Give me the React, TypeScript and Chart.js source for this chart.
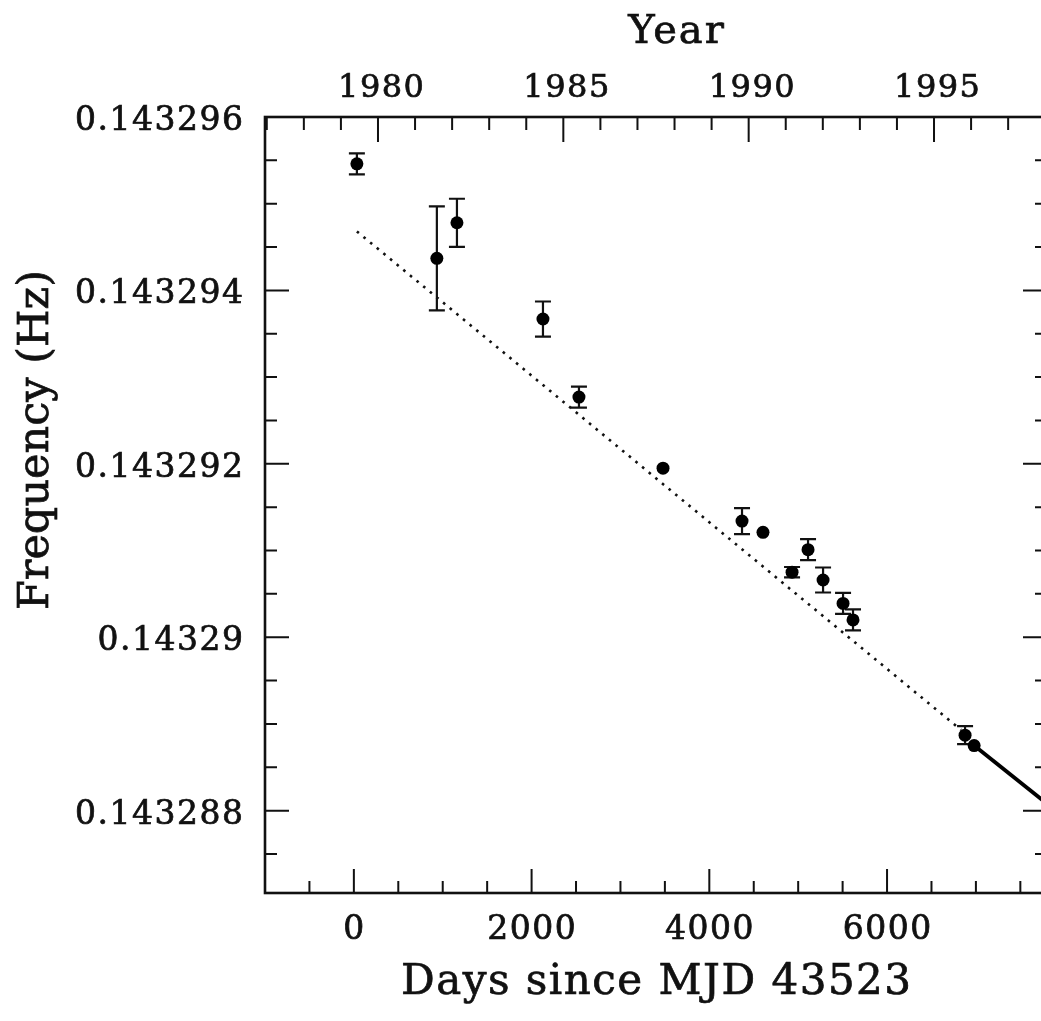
import React, { useEffect, useRef } from "react";
import { Chart, registerables } from "chart.js";

Chart.register(...registerables);

// Pulse frequency measurements: days since MJD 43523, frequency (Hz), 1-sigma error (Hz)
const obsDays = [34, 934, 1160, 2128, 2533, 3479, 4368, 4604, 4931, 5111, 5280, 5505, 5617, 6878, 6980];
const obsFreq = [
  0.14329546, 0.14329437, 0.14329478, 0.14329367, 0.14329277, 0.14329195, 0.14329134, 0.14329121,
  0.14329075, 0.14329101, 0.14329066, 0.14329039, 0.1432902, 0.14328887, 0.14328875,
];
const obsErr = [
  1.21e-7, 6.0e-7, 2.77e-7, 2.02e-7, 1.21e-7, 0, 1.5e-7, 0, 0.6e-7, 1.21e-7, 1.44e-7, 1.21e-7, 1.21e-7,
  1.04e-7, 0,
];

// Long-term linear spin-down trend (dotted)
const trendDays = [34, 6833];
const trendFreq = [0.14329468, 0.14328893];

// Recent local spin-down (solid)
const recentDays = [6980, 7800];
const recentFreq = [0.14328875, 0.14328808];

// Axis ranges and labelled ticks
const dayRange = [-1000, 7800];
const freqRange = [0.14328705, 0.143296];
const yearRange = [1976.952, 1998.048];
const dayTicks = [0, 2000, 4000, 6000];
const freqTicks = [0.143288, 0.14329, 0.143292, 0.143294, 0.143296];
const yearTicks = [1980, 1985, 1990, 1995];

const DAY_MINOR = 500;
const FREQ_MINOR = 5e-7;
const YEAR_MINOR = 1;

const INK = "#111";
const SERIF = '"DejaVu Serif", "Liberation Serif", serif';

function isMajor(v: number, list: number[], step: number) {
  return list.some((t) => Math.abs(t - v) < step / 10);
}

function stepValues(min: number, max: number, step: number) {
  const out: number[] = [];
  const k0 = Math.ceil(min / step - 1e-6);
  const k1 = Math.floor(max / step + 1e-6);
  for (let k = k0; k <= k1; k++) out.push(k * step);
  return out;
}

const errorBars = {
  id: "errorBars",
  beforeDatasetsDraw(chart: any) {
    const { ctx, chartArea: a, scales } = chart;
    const x = scales.x;
    const y = scales.y;
    ctx.save();
    ctx.beginPath();
    ctx.rect(a.left, a.top, a.right - a.left, a.bottom - a.top);
    ctx.clip();
    ctx.strokeStyle = INK;
    ctx.lineWidth = 2.2;
    const cap = 8;
    obsDays.forEach((d, i) => {
      const e = obsErr[i];
      if (!e) return;
      const px = x.getPixelForValue(d);
      const top = y.getPixelForValue(obsFreq[i] + e);
      const bot = y.getPixelForValue(obsFreq[i] - e);
      ctx.beginPath();
      ctx.moveTo(px, top);
      ctx.lineTo(px, bot);
      ctx.moveTo(px - cap, top);
      ctx.lineTo(px + cap, top);
      ctx.moveTo(px - cap, bot);
      ctx.lineTo(px + cap, bot);
      ctx.stroke();
    });
    ctx.restore();
  },
};

function drawText(
  ctx: CanvasRenderingContext2D,
  text: string,
  x: number,
  y: number,
  size: number,
  align: CanvasTextAlign,
  spacing: number
) {
  ctx.font = `${size}px ${SERIF}`;
  (ctx as any).letterSpacing = `${spacing}px`;
  ctx.textAlign = align;
  ctx.textBaseline = "alphabetic";
  // letter spacing trails the last glyph; shift so the ink stays where intended
  const dx = align === "right" ? spacing : align === "center" ? spacing / 2 : 0;
  ctx.fillText(text, x + dx, y);
  ctx.strokeText(text, x + dx, y);
  (ctx as any).letterSpacing = "0px";
}

const frame = {
  id: "frame",
  afterDraw(chart: any) {
    const { ctx, chartArea: a, scales } = chart;
    const x = scales.x;
    const y = scales.y;
    const xt = scales.xTop;
    ctx.save();
    ctx.strokeStyle = INK;
    ctx.fillStyle = INK;

    // box
    ctx.lineWidth = 2.6;
    ctx.strokeRect(a.left, a.top, a.right - a.left, a.bottom - a.top);

    // inward ticks
    ctx.lineWidth = 2;
    ctx.beginPath();
    for (const v of stepValues(x.min, x.max, DAY_MINOR)) {
      const px = x.getPixelForValue(v);
      const len = isMajor(v, dayTicks, DAY_MINOR) ? 24 : 12;
      ctx.moveTo(px, a.bottom);
      ctx.lineTo(px, a.bottom - len);
    }
    for (const v of stepValues(xt.min, xt.max, YEAR_MINOR)) {
      const px = xt.getPixelForValue(v);
      const len = isMajor(v, yearTicks, YEAR_MINOR) ? 25 : 13;
      ctx.moveTo(px, a.top);
      ctx.lineTo(px, a.top + len);
    }
    for (const v of stepValues(y.min, y.max, FREQ_MINOR)) {
      const py = y.getPixelForValue(v);
      const len = isMajor(v, freqTicks, FREQ_MINOR) ? 24 : 12;
      ctx.moveTo(a.left, py);
      ctx.lineTo(a.left + len, py);
      ctx.moveTo(a.right, py);
      ctx.lineTo(a.right - len, py);
    }
    ctx.stroke();

    // tick labels
    ctx.lineWidth = 0.7;
    for (const v of freqTicks) {
      drawText(ctx, String(v), a.left - 22, y.getPixelForValue(v) + 13, 33, "right", 1.5);
    }
    for (const v of dayTicks) {
      drawText(ctx, String(v), x.getPixelForValue(v), a.bottom + 46, 33, "center", 1.5);
    }
    for (const v of yearTicks) {
      drawText(ctx, String(v), xt.getPixelForValue(v) + 3, a.top - 20, 32, "center", 1.5);
    }

    // axis titles
    drawText(ctx, "Year", 676, 43, 40, "center", 2);
    drawText(ctx, "Days since MJD 43523", (a.left + a.right) / 2, a.bottom + 101, 42, "center", 1.5);
    ctx.save();
    ctx.translate(48, 440);
    ctx.rotate(-Math.PI / 2);
    drawText(ctx, "Frequency (Hz)", 0, 0, 43, "center", 0);
    ctx.restore();

    ctx.restore();
  },
};

export default function App() {
  const ref = useRef<HTMLCanvasElement | null>(null);

  useEffect(() => {
    const canvas = ref.current;
    if (!canvas) return;
    const chart = new Chart(canvas, {
      type: "scatter",
      data: {
        datasets: [
          {
            label: "Measured frequency",
            data: obsDays.map((d, i) => ({ x: d, y: obsFreq[i] })),
            pointRadius: 6.5,
            pointStyle: "circle",
            backgroundColor: "#000",
            borderColor: "#000",
            borderWidth: 0,
            showLine: false,
          },
          {
            label: "Long-term trend",
            data: trendDays.map((d, i) => ({ x: d, y: trendFreq[i] })),
            showLine: true,
            pointRadius: 0,
            borderColor: INK,
            borderWidth: 2.6,
            borderDash: [2.6, 6],
          },
          {
            label: "Recent spin-down",
            data: recentDays.map((d, i) => ({ x: d, y: recentFreq[i] })),
            showLine: true,
            pointRadius: 0,
            borderColor: "#000",
            borderWidth: 3.8,
          },
        ],
      },
      options: {
        animation: false,
        responsive: false,
        maintainAspectRatio: false,
        devicePixelRatio: 1,
        events: [],
        layout: { padding: { left: 265, top: 117, right: 13, bottom: 128 } },
        plugins: { legend: { display: false }, tooltip: { enabled: false } },
        scales: {
          x: { type: "linear", display: false, min: dayRange[0], max: dayRange[1] },
          y: { type: "linear", display: false, min: freqRange[0], max: freqRange[1] },
          xTop: { type: "linear", axis: "x", position: "top", display: false, min: yearRange[0], max: yearRange[1] },
        },
      },
      plugins: [errorBars, frame],
    });
    return () => chart.destroy();
  }, []);

  return (
    <div
      style={{
        position: "fixed",
        left: 0,
        top: 0,
        width: 1041,
        height: 1021,
        overflow: "hidden",
        background: "#fff",
      }}
    >
      <canvas ref={ref} width={1060} height={1021} style={{ display: "block", width: 1060, height: 1021 }} />
    </div>
  );
}
